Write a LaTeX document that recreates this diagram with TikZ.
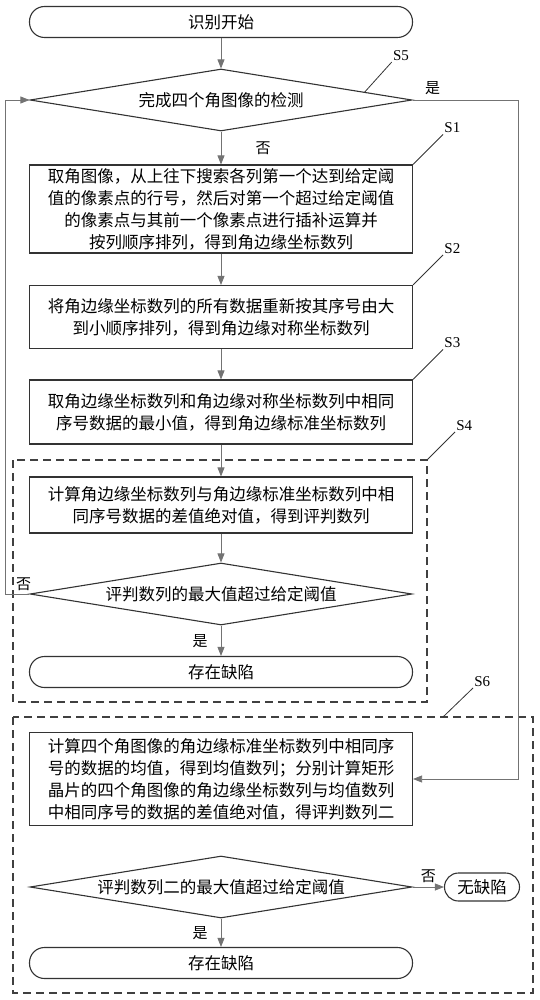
\documentclass[tikz,border=0pt]{standalone}
\usepackage{fontspec}
\setmainfont{Liberation Serif}
\newfontfamily\cjk{Noto Sans CJK SC}
\usetikzlibrary{shapes.geometric,arrows.meta,calc}

\tikzset{
  box/.style={draw=black!80, line width=1.1pt, minimum width=383pt, align=center, inner sep=0pt,
    font=\cjk\fontsize{16.5}{22}\selectfont},
  term/.style={box, rounded corners=15pt, minimum height=31pt},
  dec/.style={draw=black!80, line width=1.1pt, diamond, aspect=6.2, minimum width=382pt,
    minimum height=62pt, inner sep=0pt, font=\cjk\fontsize{16.5}{22}\selectfont},
  arr/.style={draw=black!55, line width=0.8pt, -{Triangle[length=9pt,width=7pt]}},
  lbl/.style={font=\cjk\fontsize{15}{18}\selectfont, inner sep=1pt},
  tag/.style={font=\fontsize{15}{17}\selectfont, inner sep=1pt},
  lead/.style={draw=black!80, line width=0.8pt},
  group/.style={draw=black!75, line width=1.2pt, dash pattern=on 8pt off 5pt},
}

\begin{document}
\begin{tikzpicture}[x=1pt,y=-1pt]
    \useasboundingbox (0,0) rectangle (540,1000);
    % dashed groups
    \draw[group] (13,460) rectangle (427,702);
    \draw[group] (13,717) rectangle (533,993);
    \coordinate (g4) at (427,460);
    \coordinate (g6) at (443,717);

    \node[term] at (221,22) (start) {识别开始};
    \node[dec] at (221,100) (d1) {完成四个角图像的检测};
    \node[box, minimum height=88pt] at (221,209) (s1) {取角图像，从上往下搜索各列第一个达到给定阈\\值的像素点的行号，然后对第一个超过给定阈值\\的像素点与其前一个像素点进行插补运算并\\按列顺序排列，得到角边缘坐标数列};
    \node[box, minimum height=63pt] at (221,317) (s2) {将角边缘坐标数列的所有数据重新按其序号由大\\到小顺序排列，得到角边缘对称坐标数列};
    \node[box, minimum height=64pt] at (221,412) (s3) {取角边缘坐标数列和角边缘对称坐标数列中相同\\序号数据的最小值，得到角边缘标准坐标数列};
    \node[box, minimum height=56pt] at (221,505) (s4) {计算角边缘坐标数列与角边缘标准坐标数列中相\\同序号数据的差值绝对值，得到评判数列};
    \node[dec] at (221,594) (d2) {评判数列的最大值超过给定阈值};
    \node[term] at (221,672) (e1) {存在缺陷};
    \node[box, minimum height=93pt] at (221,779) (s6) {计算四个角图像的角边缘标准坐标数列中相同序\\号的数据的均值，得到均值数列；分别计算矩形\\晶片的四个角图像的角边缘坐标数列与均值数列\\中相同序号的数据的差值绝对值，得评判数列二};
    \node[dec] at (221,887) (d3) {评判数列二的最大值超过给定阈值};
    \node[term, minimum width=75pt, minimum height=28pt, rounded corners=14pt] at (482,887) (ok) {无缺陷};
    \node[term] at (221,963) (e2) {存在缺陷};

    % step tags
    \draw[lead] ($(d1.north)!0.75!(d1.east)$) -- ++(27,-30) node[tag, anchor=south west] {S5};
    \draw[lead] (s1.north east) -- ++(30,-30) node[tag, anchor=south west] {S1};
    \draw[lead] (s2.north east) -- ++(30,-30) node[tag, anchor=south west] {S2};
    \draw[lead] (s3.north east) -- ++(30,-30) node[tag, anchor=south west] {S3};
    \draw[lead] (g4) -- ++(28,-28) node[tag, anchor=south west] {S4};
    \draw[lead] (g6) -- ++(30,-29) node[tag, anchor=south west] {S6};

    % flow
    \draw[arr] (start) -- (d1);
    \draw[arr] (d1) -- (s1) node[lbl, midway, xshift=42pt] {否};
    \draw[arr] (d1.east) -- ++(106,0) node[lbl, pos=0.19, above=4pt] {是} |- (s6.east);
    \draw[arr] (s1) -- (s2);
    \draw[arr] (s2) -- (s3);
    \draw[arr] (s3) -- (s4);
    \draw[arr] (s4) -- (d2);
    \draw[arr] (d2.west) -- ++(-24,0) |- (d1.west);
    \node[lbl, anchor=south east] at ($(d2.west)+(3,-2)$) (no2) {否};
    \draw[arr] (d2) -- (e1) node[lbl, midway, xshift=-21pt] {是};
    \draw[arr] (d3.east) -- (ok.west) node[lbl, midway, above=3pt] {否};
    \draw[arr] (d3) -- (e2) node[lbl, midway, xshift=-21pt] {是};
    \end{tikzpicture}
\end{document}
